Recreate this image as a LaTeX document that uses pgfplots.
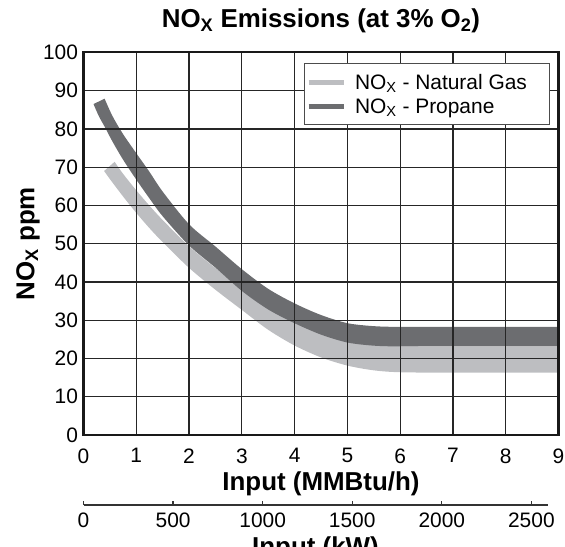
\documentclass[border=0pt]{standalone}
\usepackage{pgfplots}
\pgfplotsset{compat=1.18}
\usepgfplotslibrary{fillbetween}
\usepackage{fontspec}
\setmainfont{Liberation Sans}
\definecolor{gasgray}{RGB}{189,190,193}
\definecolor{propgray}{RGB}{108,109,112}
\begin{document}
\begin{tikzpicture}
\begin{axis}[
 at={(0,0)},anchor=south west,
 scale only axis,width=475bp,height=382.6bp,
 xmin=0,xmax=9,ymin=0,ymax=100,
 xtick={0,1,...,9},ytick={0,10,...,100},
 grid=major,major grid style={black!85,line width=1.3bp},
 axis line style={line width=2.2bp,black!90},
 major tick length=0pt,
 set layers,axis on top,
 /pgf/number format/assume math mode=true,
 tick label style={font=\fontsize{21}{24}\selectfont},
 xticklabel style={yshift=-10bp},
 yticklabel style={xshift=-2bp},
 title={\textbf{NO\textsubscript{X} Emissions (at 3\% O\textsubscript{2})}},
 title style={at={(0.5,1)},anchor=base,yshift=19bp,font=\fontsize{26}{30}\selectfont},
 xlabel={\textbf{Input (MMBtu/h)}},
 x label style={at={(axis description cs:0.5,0)},anchor=base,yshift=-55bp,font=\fontsize{26}{30}\selectfont},
 ylabel={\textbf{NO\textsubscript{X} ppm}},
 y label style={at={(axis description cs:-0.117,0.5)},anchor=center,font=\fontsize{26}{30}\selectfont},
 legend style={at={(0.981,0.971)},anchor=north east,draw=black!70,fill=white,line width=0.8bp,
   font=\fontsize{21}{24}\selectfont,inner xsep=2bp,inner ysep=8bp,row sep=4bp},
 legend cell align=left,
 legend image code/.code={\draw[#1] (0bp,0bp) -- (35bp,0bp); \path (42bp,0bp);},
]
% natural gas band: upper and lower edge
\addplot[draw=none,smooth,forget plot,name path=gastop] coordinates {
 (0.59,71.4) (0.75,68.26) (1,63.95) (1.25,59.94) (1.5,56.19) (2,49.32)
 (2.5,43.64) (3,38.51) (3.5,33.71) (4,29.82) (4.5,26.92) (5,24.86)
 (5.5,23.7) (6,23.2) (7,23.1) (9,23.1)
};
\addplot[draw=none,smooth,forget plot,name path=gasbot] coordinates {
 (0.39,69.0) (0.5,66.9) (0.75,62.34) (1,58.05) (1.25,54.06) (1.5,50.41)
 (2,43.68) (2.5,37.96) (3,32.69) (3.5,27.49) (4,23.38) (4.5,20.28)
 (5,18.14) (5.5,16.9) (6,16.4) (7,16.3) (9,16.3)
};
\addplot[gasgray,forget plot] fill between[of=gastop and gasbot];
% propane band: upper and lower edge
\addplot[draw=none,smooth,forget plot,name path=proptop] coordinates {
 (0.40,87.9) (0.55,83.33) (0.75,78.64) (1,73.65) (1.25,68.77) (1.5,63.62)
 (2,55.08) (2.5,49.26) (3,43.34) (3.5,38.2) (4,34.39) (4.5,31.36)
 (5,29.23) (5.5,28.45) (6,28.25) (7,28.25) (9,28.25)
};
\addplot[draw=none,smooth,forget plot,name path=propbot] coordinates {
 (0.19,86.5) (0.29,83.35) (0.40,80.6) (0.55,76.67) (0.75,71.96) (1,66.75)
 (1.25,61.83) (1.5,57.18) (2,49.52) (2.5,43.74) (3,37.66) (3.5,32.8)
 (4,29.21) (4.5,26.24) (5,24.17) (5.5,23.35) (6,23.15) (7,23.15) (9,23.15)
};
\addplot[propgray,forget plot] fill between[of=proptop and propbot];
\addlegendimage{gasgray,line width=5bp}
\addlegendentry{\makebox[190bp][l]{NO\textsubscript{X} - Natural Gas}}
\addlegendimage{propgray,line width=5bp}
\addlegendentry{\makebox[190bp][l]{NO\textsubscript{X} - Propane}}
\end{axis}
\begin{axis}[
 at={(0,-70bp)},anchor=south west,
 scale only axis,width=464bp,height=10bp,
 xmin=0,xmax=2590,ymin=0,ymax=1,
 axis x line*=bottom,axis y line=none,
 xtick={0,500,...,2500},xticklabels={0,500,1000,1500,2000,2500},
 tick align=inside,major tick length=4bp,
 axis line style={line width=1.3bp,black!80,-},
 every tick/.style={line width=1.2bp,black!80},
 /pgf/number format/assume math mode=true,
 tick label style={font=\fontsize{21}{24}\selectfont},
 xticklabel style={yshift=-4bp},
 xlabel={\textbf{Input (kW)}},
 x label style={at={(axis description cs:0.5,0)},anchor=base,yshift=-50bp,font=\fontsize{26}{30}\selectfont},
]
\addplot[draw=none] coordinates {(0,0)};
\end{axis}
\pgfresetboundingbox
\path[use as bounding box] (-83.5bp,-112bp) rectangle (481.5bp,435bp);
\end{tikzpicture}
\end{document}
